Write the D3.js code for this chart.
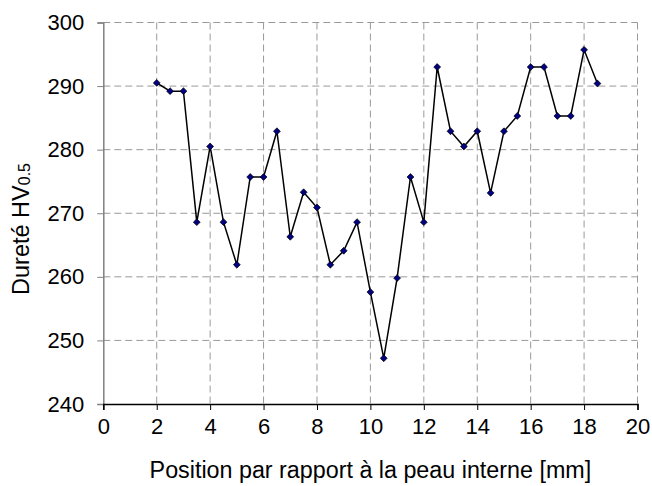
<!DOCTYPE html>
<html><head><meta charset="utf-8">
<script src="https://cdn.jsdelivr.net/npm/d3@7"></script>
<style>html,body{margin:0;padding:0;background:#fff;}svg{display:block;}</style>
</head><body>
<svg id="chart" width="652" height="486"></svg>
<script>
const positions = [2,2.5,3,3.5,4,4.5,5,5.5,6,6.5,7,7.5,8,8.5,9,9.5,10,10.5,11,11.5,12,12.5,13,13.5,14,14.5,15,15.5,16,16.5,17,17.5,18,18.5];
const hardness = [290.5,289.2,289.2,268.6,280.5,268.6,261.9,275.7,275.7,282.9,266.3,273.3,270.9,261.9,264.1,268.6,257.6,247.2,259.8,275.7,268.6,293.0,282.9,280.5,282.9,273.2,282.9,285.3,293.0,293.0,285.3,285.3,295.7,290.4];
const xTicks = [0,2,4,6,8,10,12,14,16,18,20];
const yTicks = [240,250,260,270,280,290,300];
const xTitle = "Position par rapport à la peau interne [mm]";
const yTitleMain = "Dureté HV";
const yTitleSub = "0.5";

const svg = d3.select("#chart");
const L = 103.3, R = 637.5, T = 22.5, B = 404;
const x = d3.scaleLinear().domain([0,20]).range([L,R]);
const y = d3.scaleLinear().domain([240,300]).range([B,T]);
const font = "'Liberation Sans', Arial, sans-serif";

// grid
const g = svg.append("g");
g.selectAll("line.hg").data(yTicks.filter(d=>d>240)).enter().append("line")
  .attr("x1",L).attr("x2",R).attr("y1",d=>y(d)).attr("y2",d=>y(d))
  .attr("stroke","#999").attr("stroke-width",1).attr("stroke-dasharray","7,4");
g.selectAll("line.vg").data(xTicks.filter(d=>d>0)).enter().append("line")
  .attr("x1",d=>x(d)).attr("x2",d=>x(d)).attr("y1",T).attr("y2",B)
  .attr("stroke","#999").attr("stroke-width",1).attr("stroke-dasharray","7,4");

// axes
const yAxis = d3.axisLeft(y).tickValues(yTicks).tickSize(6).tickPadding(13).tickFormat(d3.format("d"));
const ya = svg.append("g").attr("transform",`translate(${L},0)`).call(yAxis);
ya.select(".domain").attr("stroke","#808080").attr("stroke-width",1.5);
ya.selectAll(".tick line").attr("stroke","#808080");
ya.selectAll("text").attr("font-family",font).attr("font-size",22).attr("fill","#000");

const xAxis = d3.axisBottom(x).tickValues(xTicks).tickSize(6).tickPadding(8).tickFormat(d3.format("d"));
const xa = svg.append("g").attr("transform",`translate(0,${B})`).call(xAxis);
xa.select(".domain").attr("stroke","#000").attr("stroke-width",1.5);
xa.selectAll(".tick line").attr("stroke","#000");
xa.selectAll("text").attr("font-family",font).attr("font-size",22).attr("fill","#000");

// line
const pts = positions.map((p,i)=>[p,hardness[i]]);
svg.append("path").datum(pts)
  .attr("d", d3.line().x(d=>x(d[0])).y(d=>y(d[1])))
  .attr("fill","none").attr("stroke","#000").attr("stroke-width",1.5);

const sym = d3.symbol().type(d3.symbolDiamond2).size(30);
svg.selectAll("path.pt").data(pts).enter().append("path")
  .attr("transform",d=>`translate(${x(d[0])},${y(d[1])})`)
  .attr("d",sym).attr("fill","#000080").attr("stroke","#000").attr("stroke-width",0.7);

// titles
svg.append("text").attr("x",(L+R)/2).attr("y",478).attr("text-anchor","middle")
  .attr("font-family",font).attr("font-size",23.3).attr("fill","#000").text(xTitle);

const yt = svg.append("text").attr("transform","translate(29,229) rotate(-90)")
  .attr("text-anchor","middle").attr("font-family",font).attr("font-size",23.5).attr("fill","#000");
yt.append("tspan").text(yTitleMain);
yt.append("tspan").attr("font-size",16).attr("dy",1).text(yTitleSub);
</script>
</body></html>
